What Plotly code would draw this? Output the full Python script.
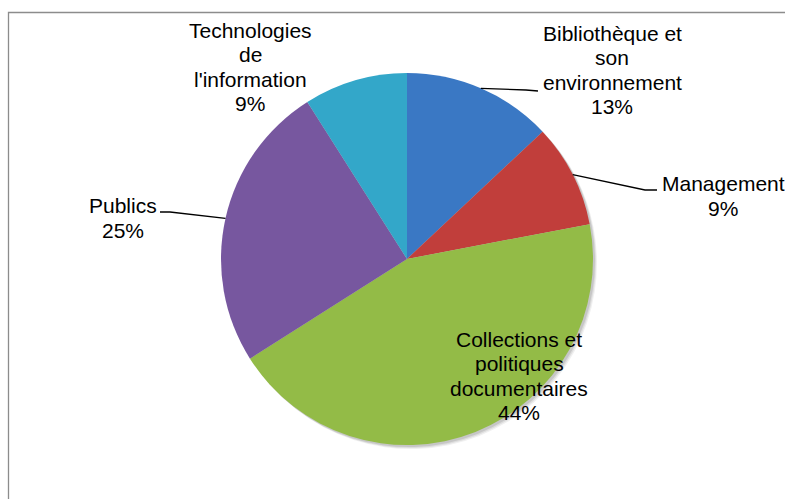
import math
import plotly.graph_objects as go

# ---- data ----
categories = [
    "Bibliothèque et son environnement",
    "Management",
    "Collections et politiques documentaires",
    "Publics",
    "Technologies de l'information",
]
label_lines = [
    ["Bibliothèque et", "son", "environnement"],
    ["Management"],
    ["Collections et", "politiques", "documentaires"],
    ["Publics"],
    ["Technologies", "de", "l'information"],
]
values = [13, 9, 44, 25, 9]
colors = ["#3A78C4", "#C13E3B", "#93BB47", "#77579F", "#33A7C9"]

# ---- layout (pixels, window coordinates) ----
W, H = 785, 499
CX, CY, R = 407, 259, 186
LINE_H = 24.5
# label centres (px) and leader line end points (px, None = no leader)
label_pos = [(612, 70), (723, 196), (519, 376), (123, 218), (250, 67)]
leader_end = [[(526, 90), (538, 91)], [(645, 190), (657, 190)], None,
              [(170, 212), (160, 212)], None]


def px(x):
    return x / W


def py(y):
    return 1 - y / H


fig = go.Figure()

# soft shadow under the pie
for off, alpha in [(4, 0.06), (3, 0.08), (2, 0.10)]:
    fig.add_trace(go.Pie(
        values=values, labels=categories, sort=False, direction="clockwise",
        rotation=0, textinfo="none", hoverinfo="skip", showlegend=False,
        marker=dict(colors=[f"rgba(0,0,0,{alpha})"] * len(values), line=dict(width=0)),
        domain=dict(x=[px(CX - R + off), px(CX + R + off)],
                    y=[py(CY + R + off), py(CY - R + off)]),
    ))

fig.add_trace(go.Pie(
    values=values, labels=categories, sort=False, direction="clockwise",
    rotation=0, textinfo="none", showlegend=False,
    marker=dict(colors=colors, line=dict(width=0)),
    domain=dict(x=[px(CX - R), px(CX + R)], y=[py(CY + R), py(CY - R)]),
))

total = sum(values)
shapes = []
annotations = []
cum = 0
for i, v in enumerate(values):
    mid = (cum + v / 2) / total * 2 * math.pi
    cum += v
    pct = round(v / total * 100)
    lx, ly = label_pos[i]
    lines = label_lines[i] + [f"{pct}%"]
    n = len(lines)
    for k, t in enumerate(lines):
        yk = ly + (k - (n - 1) / 2) * LINE_H
        annotations.append(dict(
            x=px(lx), y=py(yk), xref="paper", yref="paper",
            text=t, showarrow=False,
            xanchor="center", yanchor="middle", align="center",
            font=dict(family="Liberation Sans, Arial, sans-serif", size=21, color="#000000"),
        ))
    if leader_end[i]:
        sx = CX + R * math.sin(mid)
        sy = CY - R * math.cos(mid)
        pts = [(sx, sy)] + leader_end[i]
        path = "M " + " L ".join(f"{px(a)},{py(b)}" for a, b in pts)
        shapes.append(dict(type="path", xref="paper", yref="paper", path=path,
                           line=dict(color="#000000", width=1.3)))

# chart area border (extends past the window on right/bottom)
shapes.append(dict(type="rect", xref="paper", yref="paper",
                   x0=px(8.5), x1=1.05, y0=-0.05, y1=py(12.5),
                   line=dict(color="#8C8C8C", width=1.3), layer="below"))

fig.update_layout(
    width=W, height=H,
    margin=dict(l=0, r=0, t=0, b=0),
    paper_bgcolor="white", plot_bgcolor="white",
    shapes=shapes, annotations=annotations,
    showlegend=False,
)

fig.write_html(
    "out.html",
    config={"displayModeBar": False},
    post_script="document.body.style.margin='0';document.body.style.overflow='hidden';",
)
